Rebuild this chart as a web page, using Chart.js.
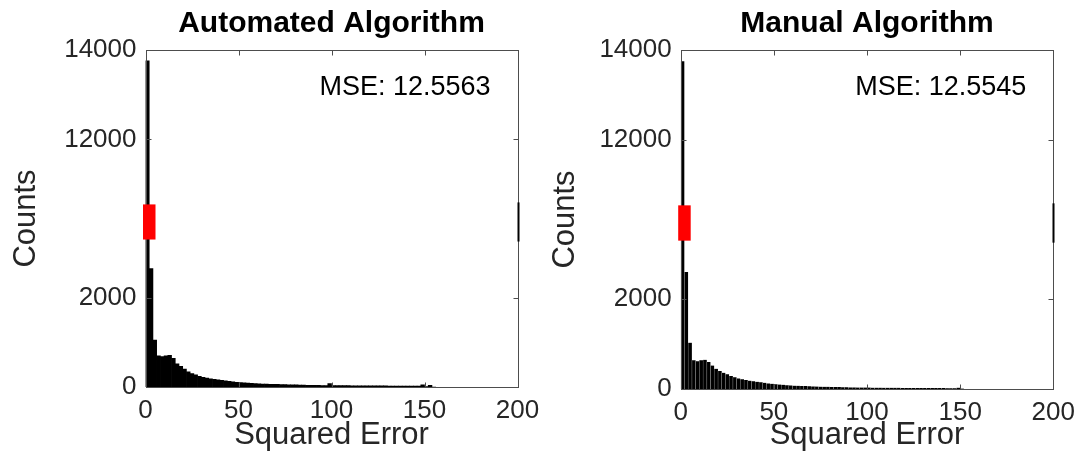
<!DOCTYPE html>
<html lang="en">
<head>
<meta charset="UTF-8">
<title>Squared Error histograms</title>
<script src="https://cdn.jsdelivr.net/npm/chart.js@4.4.1/dist/chart.umd.min.js"></script>
<style>
  html, body { margin: 0; padding: 0; background: #fff; }
  #wrap { position: relative; width: 1078px; height: 455px; }
  .box { position: absolute; top: 0; width: 539px; height: 455px; }
  #boxA { left: 0; }
  #boxB { left: 539px; }
</style>
</head>
<body>
<div id="wrap">
  <div class="box" id="boxA"><canvas id="chartA" width="539" height="455"></canvas></div>
  <div class="box" id="boxB"><canvas id="chartB" width="539" height="455"></canvas></div>
</div>
<script>
// histogram bin centres (bins are 2 wide)
const binCenters = [1,3,5,7,9,11,13,15,17,19,
  21,23,25,27,29,31,33,35,37,39,
  41,43,45,47,49,51,53,55,57,59,
  61,63,65,67,69,71,73,75,77,79,
  81,83,85,87,89,91,93,95,97,99,
  101,103,105,107,109,111,113,115,117,119,
  121,123,125,127,129,131,133,135,137,139,
  141,143,145,147,149,151,153,155];

const autoCounts = [13760,2650,1050,700,680,700,710,640,520,460,
  400,340,300,270,240,215,200,185,170,160,
  150,140,125,115,105,98,92,86,80,76,
  72,68,64,62,60,57,55,52,50,48,
  46,44,42,40,38,36,35,34,33,75,
  32,31,30,30,29,28,28,27,27,26,
  26,25,25,24,24,23,23,22,22,21,
  21,20,20,19,50,12,35,0];

const manualCounts = [13750,2600,1030,640,620,640,650,600,520,450,
  400,360,330,290,260,235,215,200,185,170,
  160,150,140,125,115,105,100,92,86,80,
  75,72,68,64,60,57,54,52,50,48,
  46,44,42,40,38,36,35,34,33,32,
  31,30,30,29,28,28,27,26,26,25,
  25,24,24,23,23,22,22,21,21,20,
  20,19,18,18,30,10,0,0];

const titles = ['Automated Algorithm', 'Manual Algorithm'];
const mseValues = ['12.5563', '12.5545'];
const xTicks = [0, 50, 100, 150, 200];
const yTicks = [0, 2000, 12000, 14000];
const yBreak = [3300, 10500];   // counts squeezed out of the y axis
const breakSpan = 741;          // room the break keeps on the axis

const FONT = '"Liberation Sans", Arial, Helvetica, sans-serif';
Chart.defaults.font.family = FONT;

function squash(v) {
  const [lo, hi] = yBreak;
  if (v <= lo) return v;
  if (v >= hi) return v - (hi - lo) + breakSpan;
  return lo + (v - lo) / (hi - lo) * breakSpan;
}
function unsquash(s) {
  const [lo, hi] = yBreak;
  if (s <= lo) return s;
  if (s >= lo + breakSpan) return s + (hi - lo) - breakSpan;
  return lo + (s - lo) / breakSpan * (hi - lo);
}

// linear axis with a squeezed middle part
class BrokenScale extends Chart.LinearScale {
  configure() {
    super.configure();
    this._startValue = squash(this.min);
    this._valueRange = squash(this.max) - squash(this.min);
  }
  getPixelForValue(value) {
    return super.getPixelForValue(squash(value));
  }
  getValueForPixel(pixel) {
    return unsquash(super.getValueForPixel(pixel));
  }
}
BrokenScale.id = 'broken';
BrokenScale.defaults = Chart.LinearScale.defaults;
Chart.register(BrokenScale);

// box, inward ticks, axis break and MSE text
const framePlugin = {
  id: 'frame',
  afterDatasetsDraw(chart, args, opts) {
    const {ctx, chartArea: a, scales: {x, y}} = chart;
    ctx.save();
    ctx.strokeStyle = '#4d4d4d';
    ctx.lineWidth = 1;
    const L = Math.round(a.left) + 0.5, R = Math.round(a.right) + 0.5;
    const T = Math.round(a.top) + 0.5, B = Math.round(a.bottom) + 0.5;
    ctx.strokeRect(L, T, R - L, B - T);
    ctx.beginPath();
    xTicks.slice(1, -1).forEach(v => {
      const px = Math.round(x.getPixelForValue(v)) + 0.5;
      ctx.moveTo(px, T); ctx.lineTo(px, T + 5);
      ctx.moveTo(px, B); ctx.lineTo(px, B - 5);
    });
    yTicks.slice(1, -1).forEach(v => {
      const py = Math.round(y.getPixelForValue(v)) + 0.5;
      ctx.moveTo(L, py); ctx.lineTo(L + 5, py);
      ctx.moveTo(R, py); ctx.lineTo(R - 5, py);
    });
    ctx.stroke();

    const yHi = y.getPixelForValue(yBreak[1]);
    const yLo = y.getPixelForValue(yBreak[0]);
    ctx.fillStyle = '#000';
    ctx.fillRect(R - 1, yHi - 4, 2, yLo - yHi + 6);
    ctx.fillStyle = '#ff0000';
    ctx.fillRect(a.left - 2.5, yHi - 2, 12.5, yLo - yHi + 2);

    ctx.fillStyle = '#000';
    ctx.font = '27px ' + FONT;
    ctx.textAlign = 'right';
    ctx.textBaseline = 'alphabetic';
    ctx.fillText('MSE: ' + opts.mse, a.right - 27, a.top + 45);
    ctx.restore();
  }
};

function makeChart(id, counts, title, mse, geo) {
  return new Chart(document.getElementById(id), {
    type: 'bar',
    data: {
      datasets: [{
        data: binCenters.map((c, i) => ({x: c, y: counts[i]})),
        backgroundColor: '#000',
        borderColor: geo.edge,
        borderWidth: geo.edgeWidth,
        barPercentage: 1,
        categoryPercentage: 1
      }]
    },
    options: {
      responsive: false,
      animation: false,
      devicePixelRatio: 1,
      layout: { padding: { left: 0, right: geo.padRight, top: 0, bottom: 0 } },
      plugins: {
        legend: { display: false },
        title: {
          display: true,
          text: title,
          fullSize: false,
          color: '#000',
          font: { size: 30, weight: 'bold' },
          padding: { top: 6, bottom: 8 }
        },
        tooltip: {
          callbacks: {
            title: items => 'Squared error ' + (items[0].raw.x - 1) + '–' + (items[0].raw.x + 1),
            label: item => 'Counts: ' + item.raw.y
          }
        },
        frame: { mse: mse }
      },
      scales: {
        x: {
          type: 'linear',
          min: 0,
          max: 200,
          offset: false,
          grid: { display: false, drawTicks: false, offset: false },
          border: { display: false },
          afterBuildTicks: s => { s.ticks = xTicks.map(v => ({value: v})); },
          afterFit: s => { s.height = geo.xHeight; s.paddingLeft = 0; s.paddingRight = 0; },
          ticks: { color: '#262626', font: { size: 26 }, padding: 8, maxRotation: 0 },
          title: {
            display: true, text: 'Squared Error', color: '#262626',
            font: { size: 31 }, padding: { top: 0, bottom: 1 }
          }
        },
        y: {
          type: 'broken',
          min: 0,
          max: 14000,
          grid: { display: false, drawTicks: false },
          border: { display: false },
          afterBuildTicks: s => { s.ticks = yTicks.map(v => ({value: v})); },
          afterFit: s => { s.width = geo.yWidth; },
          ticks: { color: '#262626', font: { size: 26 }, padding: 9, callback: v => String(v) },
          title: {
            display: true, text: 'Counts', color: '#262626',
            font: { size: 31 }, padding: { top: 8, bottom: 0 }
          }
        }
      }
    },
    plugins: [framePlugin]
  });
}

makeChart('chartA', autoCounts, titles[0], mseValues[0],
  { yWidth: 145.5, padRight: 21.5, xHeight: 68, edge: '#000', edgeWidth: 0 });
makeChart('chartB', manualCounts, titles[1], mseValues[1],
  { yWidth: 141.7, padRight: 24.7, xHeight: 66, edge: 'rgba(120,120,120,0.9)',
    edgeWidth: { left: 0.6, right: 0, top: 0, bottom: 0 } });
</script>
</body>
</html>
